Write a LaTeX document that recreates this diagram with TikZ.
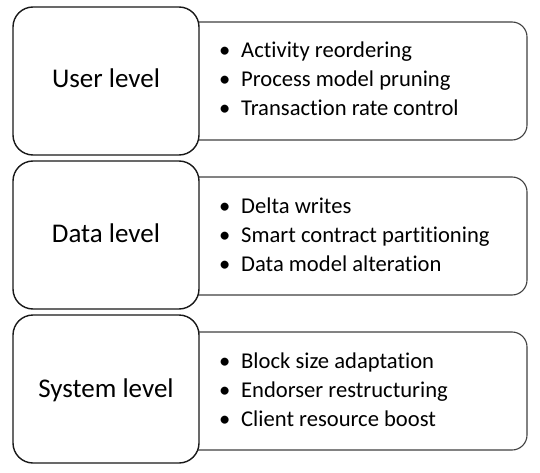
\documentclass[tikz,border=0pt]{standalone}
\usepackage{fontspec}
\setmainfont[Ligatures=NoCommon]{Carlito}
\begin{document}
\begin{tikzpicture}[x=1pt,y=-1pt,
  levelbox/.style={draw=black!90, line width=1.4pt, fill=white, rounded corners=20pt,
    minimum width=186pt, minimum height=148pt, inner sep=0pt},
  listbox/.style={draw=black!75, line width=1.1pt, fill=white, rounded corners=15pt,
    minimum width=347pt, minimum height=118pt, inner sep=0pt},
  leveltext/.style={anchor=base, inner sep=0pt, font=\fontsize{27}{32}\selectfont},
  item/.style={anchor=base west, inner sep=0pt, font=\fontsize{22.6}{29}\selectfont}]
\useasboundingbox (0,0) rectangle (540,473);
% User level
\node[listbox] (r1) at (353.5,81) {};
\node[levelbox] (l1) at (106,81) {};
\node[leveltext] (t1) at (106,88) {User level};
\node[item] (a1) at (219,58) {\makebox[22pt][l]{\textbullet}Activity reordering};
\node[item] (a2) at (219,87) {\makebox[22pt][l]{\textbullet}Process model pruning};
\node[item] (a3) at (219,116) {\makebox[22pt][l]{\textbullet}Transaction rate control};
% Data level
\node[listbox] (r2) at (353.5,236) {};
\node[levelbox] (l2) at (106,235) {};
\node[leveltext] (t2) at (106,242) {Data level};
\node[item] (b1) at (219,213) {\makebox[22pt][l]{\textbullet}Delta writes};
\node[item] (b2) at (219,242) {\makebox[22pt][l]{\textbullet}Smart contract partitioning};
\node[item] (b3) at (219,271) {\makebox[22pt][l]{\textbullet}Data model alteration};
% System level
\node[listbox] (r3) at (353.5,391) {};
\node[levelbox] (l3) at (106,389) {};
\node[leveltext] (t3) at (106,397) {System level};
\node[item] (c1) at (219,368) {\makebox[22pt][l]{\textbullet}Block size adaptation};
\node[item] (c2) at (219,397) {\makebox[22pt][l]{\textbullet}Endorser restructuring};
\node[item] (c3) at (219,426) {\makebox[22pt][l]{\textbullet}Client resource boost};
\end{tikzpicture}
\end{document}
